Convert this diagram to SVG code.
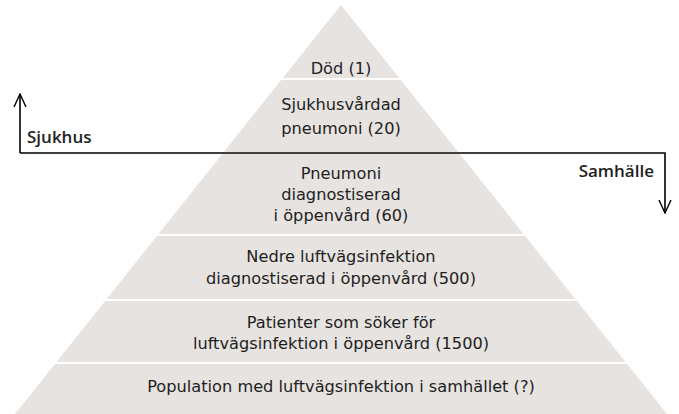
<svg xmlns="http://www.w3.org/2000/svg" width="679" height="414" viewBox="0 0 679 414">
<defs>
<style>
.layer { fill: #e6e3e0; }
.t { font-family: "DejaVu Sans", "Open Sans", sans-serif; font-size: 16.2px; fill: #1e1e1e; text-anchor: middle; font-variant-numeric: oldstyle-nums; }
.lbl { font-family: "Open Sans", "Noto Sans", "Liberation Sans", sans-serif; font-size: 17px; font-weight: 600; fill: #1e1e1e; }
.conn { fill: none; stroke: #000; stroke-width: 1.6; }
</style>
<marker id="arr" viewBox="0 0 14 14" refX="13" refY="7" markerWidth="14" markerHeight="14" markerUnits="userSpaceOnUse" orient="auto">
<path d="M0,1 L13,7 L0,13" fill="none" stroke="#000" stroke-width="1.4"/>
</marker>
</defs>
<rect width="679" height="414" fill="#fff"/>
<g id="n1">
<polygon class="layer" points="341,5 399.2,78 282.8,78"/>
<text class="t" x="341" y="74">Död (1)</text>
</g>
<g id="n2">
<polygon class="layer" points="281.2,80 400.8,80 458.2,152 223.8,152"/>
<text class="t" x="341" y="110">Sjukhusvårdad</text>
<text class="t" x="341" y="134">pneumoni (20)</text>
</g>
<g id="n3">
<polygon class="layer" points="222.2,154 459.8,154 523.5,234 158.5,234"/>
<text class="t" x="341" y="179">Pneumoni</text>
<text class="t" x="341" y="200">diagnostiserad</text>
<text class="t" x="341" y="221">i öppenvård (60)</text>
</g>
<g id="n4">
<polygon class="layer" points="156.9,236 525.1,236 575.3,299 106.7,299"/>
<text class="t" x="341" y="262">Nedre luftvägsinfektion</text>
<text class="t" x="341" y="284">diagnostiserad i öppenvård (500)</text>
</g>
<g id="n5">
<polygon class="layer" points="105.1,301 576.9,301 625.5,362 56.5,362"/>
<text class="t" x="341" y="328">Patienter som söker för</text>
<text class="t" x="341" y="349">luftvägsinfektion i öppenvård (1500)</text>
</g>
<g id="n6">
<polygon class="layer" points="54.9,364 627.1,364 667,414 15,414"/>
<text class="t" x="341" y="392">Population med luftvägsinfektion i samhället (?)</text>
</g>
<g id="connectors">
<path class="conn" d="M20,153 L20,94" marker-end="url(#arr)"/>
<path class="conn" d="M20,153 L665,153 L665,213" marker-end="url(#arr)"/>
</g>
<g id="labels">
<text class="lbl" x="27" y="143">Sjukhus</text>
<text class="lbl" x="654" y="177" text-anchor="end">Samhälle</text>
</g>
</svg>
